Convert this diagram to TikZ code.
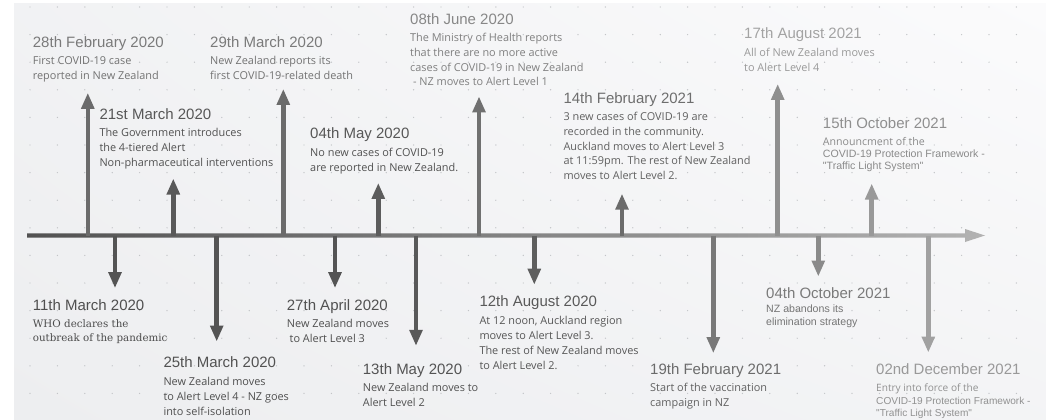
\documentclass[tikz,border=0pt]{standalone}
\usepackage{fontspec}
\setmainfont{Open Sans}
\newfontfamily\datefont{Liberation Sans}
\newfontfamily\arialfont{Liberation Sans}
\newfontfamily\seriffont{DejaVu Serif}
\usetikzlibrary{arrows.meta,positioning,shadings}
\definecolor{bgA}{HTML}{EDEEF0}
\definecolor{bgB}{HTML}{FBFBFC}
\definecolor{dotc}{HTML}{C2C4C7}

\begin{document}
\begin{tikzpicture}[
  x=1pt, y=-1pt,
  date/.style={anchor=base west, inner sep=0pt, font=\datefont\fontsize{15}{18}\selectfont},
  info/.style={anchor=base west, inner sep=0pt, align=left, font=\fontsize{10.9}{15}\selectfont},
  tone/.style={text=black!#1},
  up/.style={-{Triangle[length=16pt,width=12.5pt]}, line width=4.6pt, shorten >=#1},
  up/.default=10pt,
  down/.style={-{Triangle[length=16pt,width=12.5pt]}, line width=4.6pt, shorten >=#1},
  down/.default=11pt
]
\useasboundingbox (0,0) rectangle (1046,420);
\fill[white] (0,0) rectangle (1046,420);
\shade[lower left=bgA, upper right=bgB, upper left=bgA!70!bgB, lower right=bgA!55!bgB] (14,4) rectangle (1046,420);
\foreach \i in {0,...,36}
  \foreach \j in {0,...,14}
    \fill[dotc] (30+27.4*\i,7+27.6*\j) circle (0.7);

% time axis
\shade[left color=black!68, right color=black!30]
  (27,233.4) -- (965,233.4) -- (965,229) -- (985,235.5) -- (965,242) -- (965,237.6) -- (27,237.6) -- cycle;
\foreach \n/\x in {1/87.8,2/115,3/173.3,4/216.7,5/283.3,6/335,7/378.3,8/416,
                   9/479,10/534.3,11/622,12/713.3,13/777.7,14/818.3,15/871.7,16/928.3}
  \coordinate (e\n) at (\x,235.5);

% 2020 (text nodes sit on the baseline of their last line)
\node[date, tone=52] (d1) at (32.7,47.3) {28th February 2020};
\node[info, tone=55, below=32pt of d1.base west, anchor=base west] (t1) {First COVID-19 case\\reported in New Zealand};
\node[date, tone=69] (d2) at (32.7,310.7) {11th March 2020};
\node[info, tone=70, below=31pt of d2.base west, anchor=base west, font=\seriffont\fontsize{10.3}{14.4}\selectfont] (t2) {WHO declares the\\outbreak of the pandemic};
\node[date, tone=66] (d3) at (99.3,119.3) {21st March 2020};
\node[info, tone=68, below=47.4pt of d3.base west, anchor=base west] (t3) {The Government introduces\\the 4-tiered Alert\\Non-pharmaceutical interventions};
\node[date, tone=68] (d4) at (163.3,367.3) {25th March 2020};
\node[info, tone=69, below=47.7pt of d4.base west, anchor=base west] (t4) {New Zealand moves\\to Alert Level 4 - NZ goes\\into self-isolation};
\node[date, tone=52] (d5) at (210,47.3) {29th March 2020};
\node[info, tone=55, below=32pt of d5.base west, anchor=base west] (t5) {New Zealand reports its\\first COVID-19-related death};
\node[date, tone=68] (d6) at (286.7,310.7) {27th April 2020};
\node[info, tone=69, below=31.6pt of d6.base west, anchor=base west] (t6) {New Zealand moves\\\ to Alert Level 3};
\node[date, tone=66] (d7) at (310,138.7) {04th May 2020};
\node[info, tone=68, below=33pt of d7.base west, anchor=base west] (t7) {No new cases of COVID-19\\are reported in New Zealand.};
\node[date, tone=67] (d8) at (362.7,374.3) {13th May 2020};
\node[info, tone=68, below=32.4pt of d8.base west, anchor=base west] (t8) {New Zealand moves to\\Alert Level 2};
\node[date, tone=47] (d9) at (410,24.3) {08th June 2020};
\node[info, tone=50, below=61.5pt of d9.base west, anchor=base west, font=\fontsize{10.9}{14.7}\selectfont] (t9) {The Ministry of Health reports\\that there are no more active\\cases of COVID-19 in New Zealand\\\ - NZ moves to Alert Level 1};
\node[date, tone=65] (d10) at (479.3,306.3) {12th August 2020};
\node[info, tone=66, below=62.7pt of d10.base west, anchor=base west] (t10) {At 12 noon, Auckland region\\moves to Alert Level 3.\\The rest of New Zealand moves\\to Alert Level 2.};

% 2021
\node[date, tone=57] (d11) at (563.3,103.3) {14th February 2021};
\node[info, tone=62, below=76pt of d11.base west, anchor=base west, font=\fontsize{10.9}{14.65}\selectfont] (t11) {3 new cases of COVID-19 are\\recorded in the community.\\Auckland moves to Alert Level 3\\at 11:59pm. The rest of New Zealand\\moves to Alert Level 2.};
\node[date, tone=58] (d12) at (650,374.7) {19th February 2021};
\node[info, tone=62, below=32pt of d12.base west, anchor=base west] (t12) {Start of the vaccination\\campaign in NZ};
\node[date, tone=36] (d13) at (744,39) {17th August 2021};
\node[info, tone=40, below=32pt of d13.base west, anchor=base west] (t13) {All of New Zealand moves\\to Alert Level 4};
\node[date, tone=52] (d14) at (766,298.7) {04th October 2021};
\node[info, tone=54, below=27pt of d14.base west, anchor=base west, font=\arialfont\fontsize{10.6}{13}\selectfont] (t14) {NZ abandons its\\elimination strategy};
\node[date, tone=44] (d15) at (822.7,128.7) {15th October 2021};
\node[info, tone=46, below=40.6pt of d15.base west, anchor=base west, font=\arialfont\fontsize{10.6}{11.8}\selectfont] (t15) {{\rmfamily Announcment of the}\\COVID-19 Protection Framework -\\"Traffic Light System"};
\node[date, tone=40] (d16) at (876,374.7) {02nd December 2021};
\node[info, tone=43, below=41.6pt of d16.base west, anchor=base west, font=\arialfont\fontsize{10.1}{12.3}\selectfont] (t16) {{\rmfamily Entry into force of the}\\COVID-19 Protection Framework -\\"Traffic Light System"};

% events above the axis
\draw[up=10.7pt, black!58] (e1) -- (e1 |- t1.south);
\draw[up=9pt, black!65] (e3) -- (e3 |- t3.south);
\draw[up=9.3pt, black!58] (e5) -- (e5 |- t5.south);
\draw[up=8.4pt, black!64] (e7) -- (e7 |- t7.south);
\draw[up=10.3pt, black!56] (e9) -- (e9 |- t9.south);
\draw[up=14pt, black!58] (e11) -- (e11 |- t11.south);
\draw[up=12.6pt, black!44] (e13) -- (e13 |- t13.south);
\draw[up=11.8pt, black!40] (e15) -- (e15 |- t15.south);
% events below the axis
\draw[down=11.5pt, black!67] (e2) -- (e2 |- d2.north);
\draw[down=14.7pt, black!67] (e4) -- (e4 |- d4.north);
\draw[down=11.5pt, black!67] (e6) -- (e6 |- d6.north);
\draw[down=17.4pt, black!65] (e8) -- (e8 |- d8.north);
\draw[down=10.5pt, black!63] (e10) -- (e10 |- d10.north);
\draw[down=10.5pt, black!53] (e12) -- (e12 |- d12.north);
\draw[down=11.1pt, black!46] (e14) -- (e14 |- d14.north);
\draw[down=11.1pt, black!37] (e16) -- (e16 |- d16.north);
\end{tikzpicture}
\end{document}
